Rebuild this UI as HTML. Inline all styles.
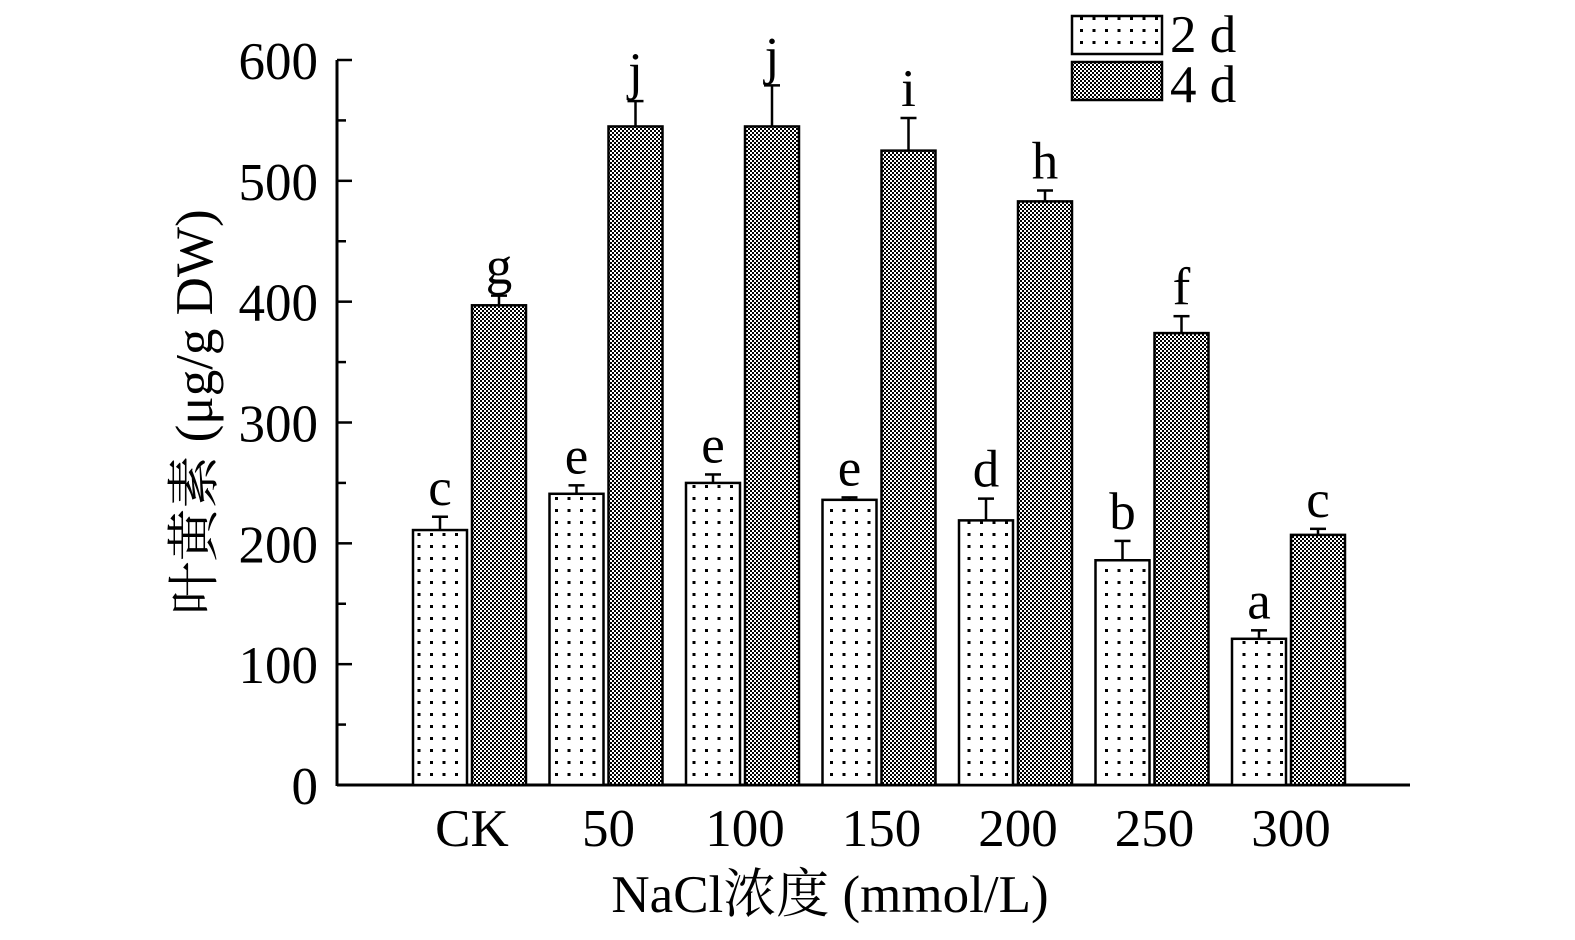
<!DOCTYPE html>
<html><head><meta charset="utf-8"><style>
body{margin:0;background:#fff}
svg text{font-family:"Liberation Serif","Noto Serif CJK SC",serif;fill:#000}
</style></head><body>
<svg width="1575" height="935" viewBox="0 0 1575 935" xmlns="http://www.w3.org/2000/svg">
<defs>
<pattern id="dots" width="12.5" height="12" patternUnits="userSpaceOnUse"><rect width="12.5" height="12" fill="#fff"/><rect x="5" y="5" width="3" height="3" fill="#000"/></pattern>
<pattern id="check" width="4" height="4" patternUnits="userSpaceOnUse"><rect width="4" height="4" fill="#fff"/><rect width="2" height="2" fill="#000"/><rect x="2" y="2" width="2" height="2" fill="#000"/></pattern>
</defs>
<g id="plot"></g>
</svg>
<script>
const categories=["CK","50","100","150","200","250","300"];
const values2d=[211,241,250,236,219,186,121];
const err2d=[11,7,7,2,18,16,7];
const letters2d=["c","e","e","e","d","b","a"];
const values4d=[397,545,545,525,483,374,207];
const err4d=[8,21,34,27,9,14,5];
const letters4d=["g","j","j","i","h","f","c"];
const yTicks=[0,100,200,300,400,500,600];
const NS="http://www.w3.org/2000/svg";
const g=document.getElementById('plot');
const y0=785,y600=60;
const Y=v=>y0-(v/600)*(y0-y600);
const X=i=>470+i*136.5;
function el(t,a,txt){const e=document.createElementNS(NS,t);for(const k in a)e.setAttribute(k,a[k]);if(txt!==undefined)e.textContent=txt;g.appendChild(e);return e;}
let ax=el('line',{x1:337,y1:y0,x2:1410,y2:y0,stroke:'#000','stroke-width':3});

let ay=el('line',{x1:337,y1:y0+1,x2:337,y2:y600,stroke:'#000','stroke-width':3});

for(let v=0;v<=600;v+=50){
  const major=v%100===0;
  let t=el('line',{x1:337,y1:Y(v),x2:337+(major?15:9),y2:Y(v),stroke:'#000','stroke-width':2.5});
  
}
yTicks.forEach(v=>{
  let t=el('text',{x:318,y:Y(v)+19,'font-size':53,'text-anchor':'end'},String(v));
  
});
const bw=54;
function bar(cx,v,e,letter,fill,name){
  const x=cx, yt=Y(v);
  let r=el('rect',{x:x,y:yt,width:bw,height:y0-yt,fill:fill,stroke:'#000','stroke-width':2.5});
  
  const ye=Y(v+e), mx=x+bw/2;
  let l=el('line',{x1:mx,y1:yt,x2:mx,y2:ye,stroke:'#000','stroke-width':2.5});
  
  let c=el('line',{x1:mx-8,y1:ye,x2:mx+8,y2:ye,stroke:'#000','stroke-width':2.5});
  
  let s=el('text',{x:mx,y:ye-12,'font-size':53,'text-anchor':'middle'},letter);
  
}
categories.forEach((c,i)=>{
  const cx=X(i);
  bar(cx-57,values2d[i],err2d[i],letters2d[i],'url(#dots)','bar-2d-'+c);
  bar(cx+2,values4d[i],err4d[i],letters4d[i],'url(#check)','bar-4d-'+c);
  let t=el('text',{x:cx+2,y:846,'font-size':53,'text-anchor':'middle'},c);
  
});
let xt=el('text',{x:830,y:912,'font-size':53,'text-anchor':'middle'},'NaCl浓度 (mmol/L)');

let yt=el('text',{x:0,y:0,'font-size':53,'text-anchor':'middle',transform:'translate(212,412) rotate(-90)'},'叶黄素 (μg/g DW)');

let lr1=el('rect',{x:1072,y:16,width:90,height:38,fill:'url(#dots)',stroke:'#000','stroke-width':2.5});

let lt1=el('text',{x:1170,y:52,'font-size':53},'2 d');

let lr2=el('rect',{x:1072,y:62,width:90,height:38,fill:'url(#check)',stroke:'#000','stroke-width':2.5});

let lt2=el('text',{x:1170,y:102,'font-size':53},'4 d');

</script>
</body></html>
